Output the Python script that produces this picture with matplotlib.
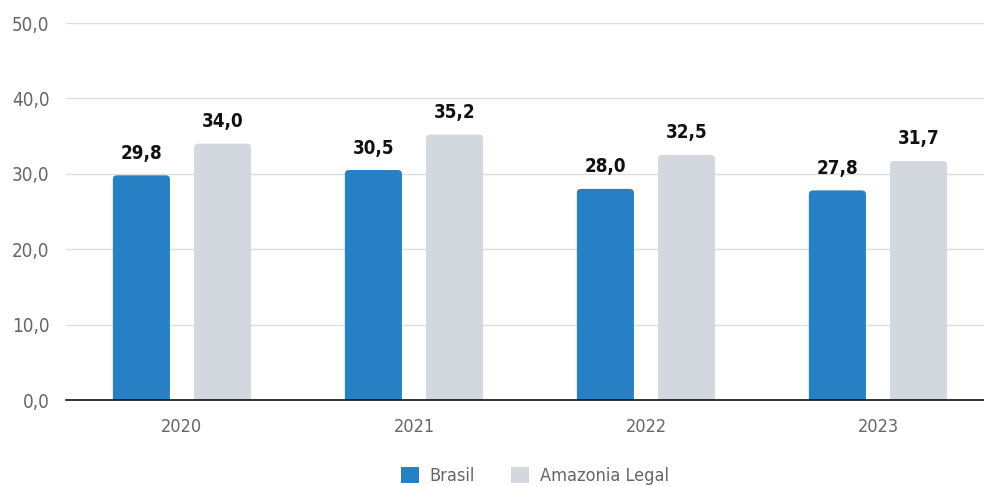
import numpy as np
import matplotlib
matplotlib.use('Agg')
import matplotlib.pyplot as plt
from matplotlib.patches import FancyBboxPatch, Patch

anos = ['2020', '2021', '2022', '2023']
brasil = [29.8, 30.5, 28.0, 27.8]
amazonia = [34.0, 35.2, 32.5, 31.7]
series_names = ['Brasil', 'Amazonia Legal']
yticks = [0, 10, 20, 30, 40, 50]

plt.rcParams['font.family'] = ['DejaVu Sans']
plt.rcParams['font.stretch'] = 'condensed'

azul = '#2780C4'
cinza = '#D3D8DF'

fig = plt.figure(figsize=(9.84, 4.86), dpi=100)
ax = fig.add_axes([66/984, 86/486, 928/984, 377/486])

x = np.arange(len(anos))
w = 0.246
off = 0.175

def barras(xs, vals, cor):
    bars = ax.bar(xs, vals, w, color=cor, zorder=2)
    # troca por retangulos com cantos arredondados
    r = 0.018
    asp = 30.0
    for b in bars:
        b.set_visible(False)
        p = FancyBboxPatch((b.get_x(), -2), b.get_width(), b.get_height() + 2,
                           boxstyle='round,pad=0,rounding_size=%f' % r,
                           mutation_aspect=asp, fc=cor, ec='none', zorder=2,
                           clip_on=True)
        ax.add_patch(p)
    for xi, v in zip(xs, vals):
        ax.annotate(('%.1f' % v).replace('.', ','), (xi, v), xytext=(0, 9),
                    textcoords='offset points', ha='center', va='bottom',
                    fontsize=13.5, fontweight='bold', color='#111111')

barras(x - off, brasil, azul)
barras(x + off, amazonia, cinza)

ax.set_xlim(-0.5, 3.5)
ax.set_ylim(0, 50)
ax.set_yticks(yticks)
ax.set_yticklabels(['%d,0' % t for t in yticks])
ax.set_xticks(x)
ax.set_xticklabels(anos)
ax.tick_params(axis='y', length=0, pad=12, labelsize=13.5, labelcolor='#666666')
ax.tick_params(axis='x', length=0, pad=13, labelsize=13, labelcolor='#666666')
ax.grid(axis='y', color='#DDDDDD', linewidth=1, zorder=0)
ax.set_axisbelow(True)
for s in ['top', 'right', 'left']:
    ax.spines[s].set_visible(False)
ax.spines['bottom'].set_color('#111111')
ax.spines['bottom'].set_linewidth(1.2)
ax.spines['bottom'].set_zorder(3)

handles = [Patch(fc=azul, ec='none'), Patch(fc=cinza, ec='none')]
fig.legend(handles, series_names, loc='center', bbox_to_anchor=(535/984, 1 - 476/486),
           ncol=2, frameon=False, fontsize=13, labelcolor='#666666',
           handlelength=1.0, handleheight=1.0, handletextpad=0.6, columnspacing=2.0)

fig.savefig('out.png', dpi=100)
